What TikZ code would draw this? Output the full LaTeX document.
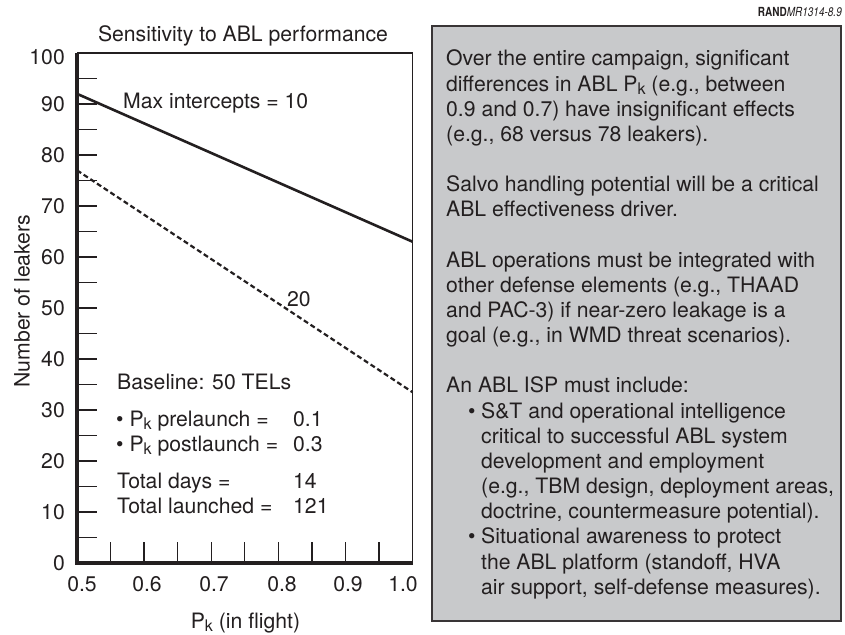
\documentclass[tikz,border=0pt]{standalone}
\usepackage{fontspec}
\setmainfont{TeX Gyre Heros}
\definecolor{ink}{HTML}{231F20}
\definecolor{panel}{RGB}{200,201,203}
\newcommand\Pk{P\raisebox{-0.16em}{\fontsize{16}{16}\selectfont k}}
\newcommand\mainfs{\fontsize{21.2}{25.15}\selectfont}
\begin{document}
\begin{tikzpicture}[x=1pt,y=-1pt,
  every node/.style={inner sep=0pt, text=ink, font=\mainfs},
  lab/.style={anchor=base west},
  ylab/.style={anchor=east},
  xlab/.style={anchor=base},
  tickline/.style={draw=ink, line width=1.3pt},
  frameline/.style={draw=ink, line width=1.3pt},
  axisline/.style={draw=ink, line width=3.6pt, line join=miter},
  solidcurve/.style={draw=ink, line width=2.6pt},
  dashcurve/.style={draw=ink, line width=2.2pt, dash pattern=on 5pt off 3pt},
  panelbox/.style={draw=ink!90, line width=2pt, fill=panel}]
\useasboundingbox (0,0) rectangle (845,634);
\fill[white] (0,0) rectangle (845,634);

% ---------- right panel ----------
\draw[panelbox] (432,26) rectangle (841,621);
\node[anchor=base east, font=\fontsize{12.5}{14}\selectfont] (rand) at (842,17)
  {\scalebox{0.8}[1]{\textbf{RAND}\textit{MR1314-8.9}}};

\node[lab] (p0)  at (446,66.00)  {Over the entire campaign, significant};
\node[lab] (p1)  at (446,91.15)  {differences in ABL \Pk{} (e.g., between};
\node[lab] (p2)  at (446,116.30) {0.9 and 0.7) have insignificant effects};
\node[lab] (p3)  at (446,141.45) {(e.g., 68 versus 78 leakers).};
\node[lab] (p5)  at (446,191.75) {Salvo handling potential will be a critical};
\node[lab] (p6)  at (446,216.90) {ABL effectiveness driver.};
\node[lab] (p8)  at (446,267.20) {ABL operations must be integrated with};
\node[lab] (p9)  at (446,292.35) {other defense elements (e.g., THAAD};
\node[lab] (p10) at (446,317.50) {and PAC-3) if near-zero leakage is a};
\node[lab] (p11) at (446,342.65) {goal (e.g., in WMD threat scenarios).};
\node[lab] (p13) at (446,392.95) {An ABL ISP must include:};
\node[lab] (b14) at (468,418.10) {•};
\node[lab] (p14) at (481,418.10) {S\&T and operational intelligence};
\node[lab] (p15) at (481,443.25) {critical to successful ABL system};
\node[lab] (p16) at (481,468.40) {development and employment};
\node[lab] (p17) at (481,493.55) {(e.g., TBM design, deployment areas,};
\node[lab] (p18) at (481,518.70) {doctrine, countermeasure potential).};
\node[lab] (b19) at (468,543.85) {•};
\node[lab] (p19) at (481,543.85) {Situational awareness to protect};
\node[lab] (p20) at (481,569.00) {the ABL platform (standoff, HVA};
\node[lab] (p21) at (481,594.15) {air support, self-defense measures).};

% ---------- plot ----------
\node[anchor=base] (title) at (243,41.5) {Sensitivity to ABL performance};
\node[rotate=90] (ytitle) at (22,301) {Number of leakers};
\node[anchor=base] (xtitle) at (245.5,628) {\Pk{} (in flight)};

\coordinate (O)  at (77,563);
\coordinate (TL) at (77,53);
\coordinate (TR) at (412.5,53);
\coordinate (BR) at (412.5,563);

\foreach \v in {5,10,...,95}
  \draw[tickline] (77,{563-5.1*\v}) -- ++(20,0);
\foreach \i in {1,...,9}
  \draw[tickline] ({77+33.55*\i},563) -- ++(0,-21.5);
\draw[frameline] (TL) -- (TR) -- (BR);
\draw[axisline] (TL) -- (O) -- (BR);

% y labels
\node[ylab] (y100) at (65,57.5) {100};
\foreach \v in {0,10,...,90}
  \node[ylab] (y\v) at (65,{563-5.1*\v}) {\v};

% x labels
\node[xlab] (x05) at (82,591)  {0.5};
\node[xlab] (x06) at (147,591) {0.6};
\node[xlab] (x07) at (214,591) {0.7};
\node[xlab] (x08) at (282,591) {0.8};
\node[xlab] (x09) at (348,591) {0.9};
\node[xlab] (x10) at (403,591) {1.0};

% curves
\coordinate (s0) at (77,93.8);
\coordinate (s1) at (412.5,241.7);
\coordinate (d0) at (77,170.3);
\coordinate (d1) at (412.5,392.2);
\draw[solidcurve] (s0) -- (s1);
\draw[dashcurve] (d0) -- (d1);

\node[lab] (maxint) at (123,108.3) {Max intercepts = 10};
\node[lab] (twenty) at (287,306) {20};

% legend
\node[lab] (base)  at (117,389)   {Baseline: 50 TELs};
\node[lab] (pre)   at (116,426)   {• \Pk{} prelaunch =};
\node[lab] (post)  at (116,451.5) {• \Pk{} postlaunch =};
\node[lab] (days)  at (117,488.3) {Total days =};
\node[lab] (laun)  at (117,513.3) {Total launched =};
\node[lab] (vpre)  at (293,426)   {0.1};
\node[lab] (vpost) at (293,451.5) {0.3};
\node[lab] (vdays) at (293,488.3) {14};
\node[lab] (vlaun) at (293,513.3) {121};
\end{tikzpicture}
\end{document}
